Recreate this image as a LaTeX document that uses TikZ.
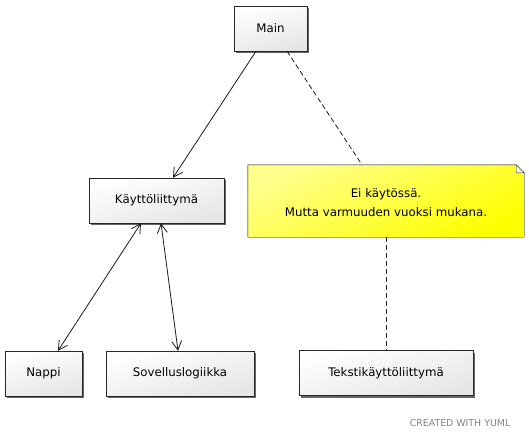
\documentclass[tikz,border=0pt]{standalone}
\usepackage{fontspec}
\setmainfont{DejaVu Sans}
\usetikzlibrary{arrows.meta,shadows}

\begin{document}
\begin{tikzpicture}[x=1pt,y=-1pt,
		box/.style={draw=black!85,rectangle,font=\fontsize{11.8}{13}\selectfont,
			top color=white,bottom color=black!10,shading angle=15,
			drop shadow={shadow xshift=2pt,shadow yshift=-2pt,fill=black!60,opacity=1},
			minimum height=45pt,inner sep=0pt},
		arr/.style={-{Straight Barb[length=9pt,width=10pt]},black!90,line width=0.8pt},
		dblarr/.style={{Straight Barb[length=9pt,width=10pt]}-{Straight Barb[length=9pt,width=10pt]},black!90,line width=0.8pt},
		dashline/.style={black!90,line width=0.8pt,dash pattern=on 5pt off 3pt}]
		\useasboundingbox (0,0) rectangle (529,440);
		\node[box,minimum width=73pt] (main) at (270.5,28.5) {Main};
		\node[box,minimum width=135pt] (kl) at (156.5,200.5) {Käyttöliittymä};
		\node[box,minimum width=77pt] (nappi) at (43.5,373.5) {Nappi};
		\node[box,minimum width=148pt] (sl) at (180,373.5) {Sovelluslogiikka};
		\node[box,minimum width=174pt] (tkl) at (386,373) {Tekstikäyttöliittymä};
		
		% note
		\node[minimum width=276pt,minimum height=72pt,inner sep=0pt] (note) at (386,201) {};
		\fill[black!60,shift={(2,2)}] (note.north west) -- ([xshift=-8pt]note.north east) -- ([yshift=-8pt]note.north east) -- (note.south east) -- (note.south west) -- cycle;
		\shade[draw=black!85,top color=yellow!45,bottom color=yellow,shading angle=25] (note.north west) -- ([xshift=-8pt]note.north east) -- ([yshift=-8pt]note.north east) -- (note.south east) -- (note.south west) -- cycle;
		\filldraw[draw=black!85,fill=yellow!20] ([xshift=-8pt]note.north east) -- ([yshift=-8pt]note.north east) -- ([xshift=-8pt,yshift=-8pt]note.north east) -- cycle;
		\node[font=\fontsize{11.8}{13}\selectfont,align=center] (notetext) at (386,203) {Ei käytössä.\hspace{11pt}\\[6pt] Mutta varmuuden vuoksi mukana.};
		
		\draw[arr] ([xshift=-14.5pt]main.south) -- ([xshift=16.5pt]kl.north);
		\draw[dashline] ([xshift=16.5pt]main.south) -- ([xshift=-24pt]note.north);
		\draw[dashline] (note.south) -- (tkl.north);
		\draw[dblarr] ([xshift=-15.5pt]kl.south) -- ([xshift=14.5pt]nappi.north);
		\draw[dblarr] ([xshift=4.5pt]kl.south) -- ([xshift=-2pt]sl.north);
		
		\node[text=black!50,font=\fontsize{9.4}{10}\selectfont] (yuml) at (460,423) {CREATED WITH YUML};
\end{tikzpicture}
\end{document}
